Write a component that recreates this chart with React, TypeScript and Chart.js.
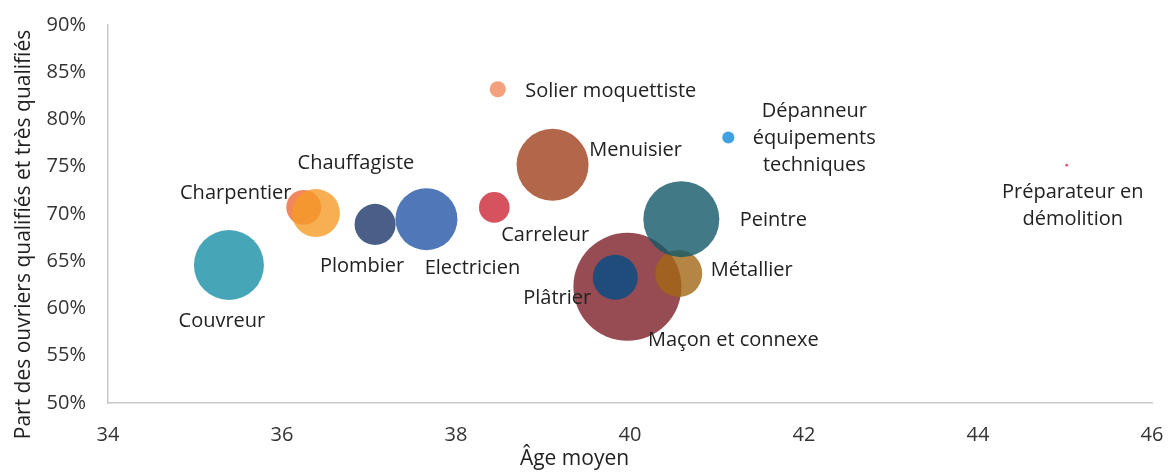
import React, { useEffect, useRef } from "react";
import { Chart, registerables } from "chart.js";

Chart.register(...registerables);

// ---- Data ----
const jobs = [
  "Couvreur",
  "Charpentier",
  "Chauffagiste",
  "Plombier",
  "Electricien",
  "Carreleur",
  "Solier moquettiste",
  "Menuisier",
  "Maçon et connexe",
  "Plâtrier",
  "Métallier",
  "Peintre",
  "Dépanneur équipements techniques",
  "Préparateur en démolition",
];
const ageMoyen = [35.39, 36.25, 36.39, 37.07, 37.66, 38.44, 38.48, 39.11, 39.97, 39.83, 40.56, 40.59, 41.13, 45.02];
const partQualifies = [64.6, 70.7, 70.1, 68.9, 69.45, 70.7, 83.2, 75.2, 62.3, 63.3, 63.7, 69.45, 78.1, 75.15];
const effectifs = [60.5, 15.1, 28.4, 20.8, 47.5, 11.6, 3.2, 64, 144, 25, 27.3, 71.3, 1.8, 0.11];
const xTickValues = [34, 36, 38, 40, 42, 44, 46];
const yTickValues = [50, 55, 60, 65, 70, 75, 80, 85, 90];
const xTitle = "Âge moyen";
const yTitle = "Part des ouvriers qualifiés et très qualifiés";

// ---- Styles ----
const labelLines: string[][] = [
  ["Couvreur"],
  ["Charpentier"],
  ["Chauffagiste"],
  ["Plombier"],
  ["Electricien"],
  ["Carreleur"],
  ["Solier moquettiste"],
  ["Menuisier"],
  ["Maçon et connexe"],
  ["Plâtrier"],
  ["Métallier"],
  ["Peintre"],
  ["Dépanneur", "équipements", "techniques"],
  ["Préparateur en", "démolition"],
];
const labelOffsets: [number, number][] = [
  [-7, 56],
  [-68, -14],
  [40, -50],
  [-13, 42],
  [46, 49],
  [51, 28],
  [113, 2],
  [83, -15],
  [106, 54],
  [-58, 21],
  [73, -3],
  [92, 1],
  [86, 0.5],
  [6, 40.5],
];
const colors = [
  "rgba(25,142,166,0.8)",
  "rgba(239,105,55,0.8)",
  "rgba(245,155,39,0.8)",
  "rgba(29,55,106,0.8)",
  "rgba(36,86,166,0.8)",
  "rgba(204,39,54,0.8)",
  "rgba(242,136,92,0.8)",
  "rgba(160,65,29,0.8)",
  "rgba(124,31,39,0.8)",
  "rgba(12,78,132,0.85)",
  "rgba(162,102,21,0.8)",
  "rgba(18,89,104,0.8)",
  "rgba(15,136,219,0.8)",
  "rgba(226,61,80,0.8)",
];
const FONT = "'Open Sans', sans-serif";
const bubbleScale = 4.5;

const labelPlugin = {
  id: "bubbleLabels",
  afterDatasetsDraw(chart: any) {
    const ctx = chart.ctx as CanvasRenderingContext2D;
    const meta = chart.getDatasetMeta(0);
    ctx.save();
    ctx.font = `20px ${FONT}`;
    ctx.fillStyle = "#222222";
    ctx.textAlign = "center";
    ctx.textBaseline = "middle";
    const lh = 27;
    meta.data.forEach((el: any, i: number) => {
      const [dx, dy] = labelOffsets[i];
      const lines = labelLines[i];
      const startY = el.y + dy - ((lines.length - 1) * lh) / 2;
      lines.forEach((ln, j) => ctx.fillText(ln, el.x + dx, startY + j * lh));
    });
    // axis titles
    ctx.fillStyle = "#222222";
    ctx.font = `21px ${FONT}`;
    ctx.textBaseline = "alphabetic";
    ctx.fillText(xTitle, 574.5, 465);
    ctx.translate(29.5, 234.5);
    ctx.rotate(-Math.PI / 2);
    ctx.font = `21px ${FONT}`;
    ctx.fillText(yTitle, 0, 0);
    ctx.restore();
  },
};

export default function App() {
  const ref = useRef<HTMLCanvasElement | null>(null);
  useEffect(() => {
    document.body.style.margin = "0";
    if (!ref.current) return;
    Chart.defaults.font.family = FONT;
    const chart = new Chart(ref.current, {
      type: "bubble",
      data: {
        datasets: [
          {
            label: "Métiers",
            data: jobs.map((_, i) => ({
              x: ageMoyen[i],
              y: partQualifies[i],
              r: bubbleScale * Math.sqrt(effectifs[i]),
            })),
            backgroundColor: colors,
            borderWidth: 0,
            hoverBorderWidth: 0,
            clip: false,
          },
        ],
      },
      options: {
        responsive: true,
        maintainAspectRatio: false,
        animation: false,
        layout: { autoPadding: false, padding: { top: 25, right: 16, left: 0, bottom: 0 } },
        plugins: {
          legend: { display: false },
          tooltip: { enabled: false },
        },
        scales: {
          x: {
            type: "linear",
            min: 34,
            max: 46,
            afterFit: (s: any) => {
              s.height = 70;
            },
            afterBuildTicks: (s: any) => {
              s.ticks = xTickValues.map((v) => ({ value: v }));
            },
            grid: { display: false, drawTicks: true, tickLength: 20 },
            border: { display: true, color: "#c8c8c8", width: 1.5 },
            ticks: {
              padding: 0,
              color: "#333333",
              font: { size: 20, family: FONT },
              callback: (v: any) => String(v),
            },
          },
          y: {
            type: "linear",
            min: 50,
            max: 90,
            afterFit: (s: any) => {
              s.width = 108;
            },
            afterBuildTicks: (s: any) => {
              s.ticks = yTickValues.map((v) => ({ value: v }));
            },
            grid: { display: false, drawTicks: true, tickLength: 22 },
            border: { display: true, color: "#c8c8c8", width: 1.5 },
            ticks: {
              padding: 0,
              color: "#333333",
              font: { size: 20, family: FONT },
              callback: (v: any) => `${v}%`,
            },
          },
        },
      },
      plugins: [labelPlugin],
    });
    return () => chart.destroy();
  }, []);
  return (
    <div style={{ width: 1168, height: 473, position: "relative" }}>
      <canvas ref={ref} />
    </div>
  );
}
